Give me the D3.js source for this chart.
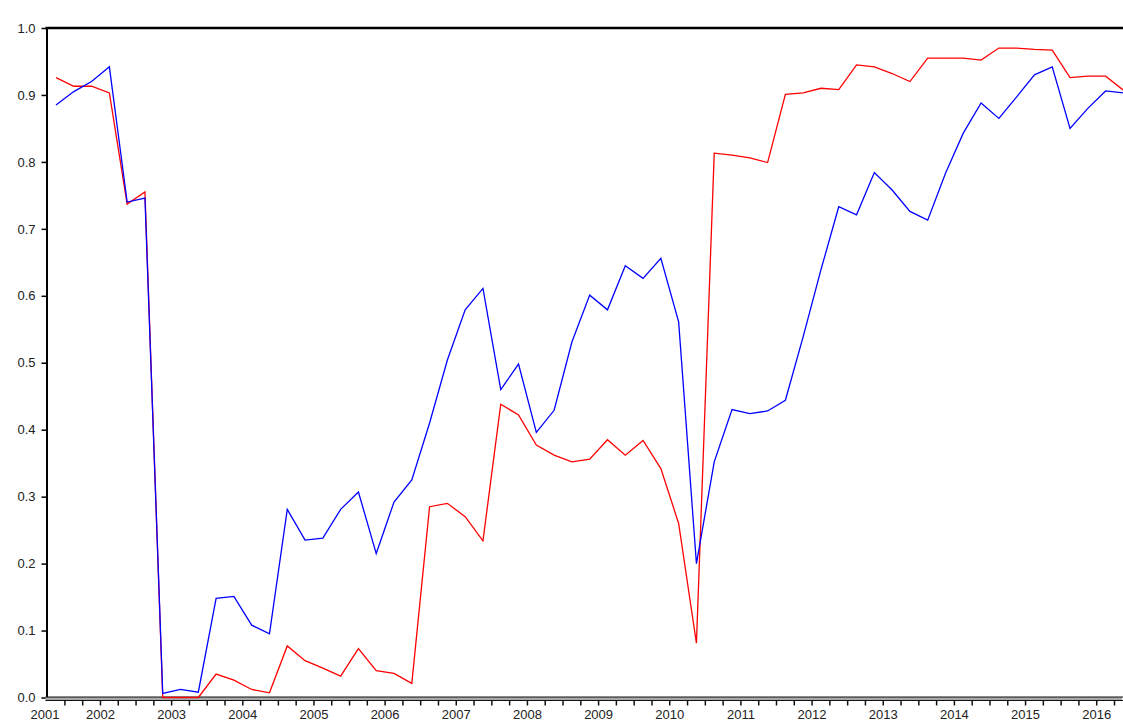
<!DOCTYPE html>
<html>
<head>
<meta charset="utf-8">
<script src="https://cdn.jsdelivr.net/npm/d3@7"></script>
<style>
    body { margin: 0; background: #fff; }
    svg { display: block; }
    .tick-label { font-family: "Liberation Sans", Arial, sans-serif; font-size: 13px; fill: #222; }
</style>
</head>
<body>
<div id="chart-container"></div>
<script>
// quarterly observations, 2001Q4 .. 2016Q4
var quarters = [
    "2001Q4",
    "2002Q1", "2002Q2", "2002Q3", "2002Q4",
    "2003Q1", "2003Q2", "2003Q3", "2003Q4",
    "2004Q1", "2004Q2", "2004Q3", "2004Q4",
    "2005Q1", "2005Q2", "2005Q3", "2005Q4",
    "2006Q1", "2006Q2", "2006Q3", "2006Q4",
    "2007Q1", "2007Q2", "2007Q3", "2007Q4",
    "2008Q1", "2008Q2", "2008Q3", "2008Q4",
    "2009Q1", "2009Q2", "2009Q3", "2009Q4",
    "2010Q1", "2010Q2", "2010Q3", "2010Q4",
    "2011Q1", "2011Q2", "2011Q3", "2011Q4",
    "2012Q1", "2012Q2", "2012Q3", "2012Q4",
    "2013Q1", "2013Q2", "2013Q3", "2013Q4",
    "2014Q1", "2014Q2", "2014Q3", "2014Q4",
    "2015Q1", "2015Q2", "2015Q3", "2015Q4",
    "2016Q1", "2016Q2", "2016Q3", "2016Q4"
];

var redSeries = [
    0.926,
    0.913, 0.913, 0.903, 0.737,
    0.755, 0.000, 0.000, 0.000,
    0.035, 0.026, 0.012, 0.007,
    0.077, 0.055, 0.044, 0.032,
    0.073, 0.040, 0.036, 0.021,
    0.285, 0.290, 0.270, 0.234,
    0.438, 0.422, 0.377, 0.362,
    0.352, 0.356, 0.385, 0.362,
    0.384, 0.342, 0.260, 0.081,
    0.813, 0.810, 0.806, 0.799,
    0.901, 0.903, 0.910, 0.908,
    0.945, 0.942, 0.932, 0.920,
    0.955, 0.955, 0.955, 0.952,
    0.970, 0.970, 0.968, 0.967,
    0.926, 0.928, 0.928, 0.907
];

var blueSeries = [
    0.885,
    0.905, 0.920, 0.942, 0.740,
    0.746, 0.006, 0.012, 0.008,
    0.148, 0.151, 0.108, 0.095,
    0.281, 0.235, 0.238, 0.281,
    0.307, 0.215, 0.292, 0.325,
    0.410, 0.504, 0.579, 0.611,
    0.460, 0.498, 0.396, 0.429,
    0.531, 0.601, 0.579, 0.645,
    0.626, 0.656, 0.561, 0.200,
    0.352, 0.430, 0.424, 0.428,
    0.444, 0.539, 0.639, 0.733,
    0.721, 0.784, 0.758, 0.726,
    0.713, 0.783, 0.843, 0.888,
    0.865, 0.897, 0.930, 0.942,
    0.850, 0.880, 0.906, 0.903
];

var years = ["2001", "2002", "2003", "2004", "2005", "2006", "2007", "2008",
    "2009", "2010", "2011", "2012", "2013", "2014", "2015", "2016"];

var yTicks = [0.0, 0.1, 0.2, 0.3, 0.4, 0.5, 0.6, 0.7, 0.8, 0.9, 1.0];

var width = 1123, height = 722;
var plotLeft = 46.5, plotTop = 28, plotBottom = 697.5;

var svg = d3.select("#chart-container")
    .append("svg")
    .attr("width", width)
    .attr("height", height);

var x = d3.scalePoint()
    .domain(quarters)
    .range([56, 1123.4]);

var step = x.step();

var y = d3.scaleLinear()
    .domain([0, 1])
    .range([plotBottom, plotTop]);

// top border
svg.append("line")
    .attr("x1", plotLeft - 1).attr("x2", width)
    .attr("y1", plotTop).attr("y2", plotTop)
    .attr("stroke", "#000")
    .attr("stroke-width", 2.5);

// left axis
var yAxis = svg.append("g")
    .attr("transform", "translate(" + plotLeft + ",0)")
    .call(d3.axisLeft(y).tickValues(yTicks).tickSize(5).tickSizeOuter(0).tickPadding(6)
        .tickFormat(d3.format(".1f")));

yAxis.attr("font-family", null).attr("font-size", null);

yAxis.select(".domain")
    .attr("stroke", "#000")
    .attr("stroke-width", 2);

yAxis.selectAll(".tick line")
    .attr("stroke", "#000")
    .attr("stroke-width", 1.5);

yAxis.selectAll(".tick text")
    .attr("class", "tick-label")
    .attr("fill", null);

// bottom axis: double rail
svg.append("rect")
    .attr("x", plotLeft - 1).attr("y", plotBottom - 0.5)
    .attr("width", width - plotLeft).attr("height", 3.5)
    .attr("fill", "#a8a8a8");

[plotBottom - 0.5, plotBottom + 3].forEach(function (yy) {
    svg.append("line")
        .attr("x1", plotLeft - 1).attr("x2", width)
        .attr("y1", yy).attr("y2", yy)
        .attr("stroke", "#111")
        .attr("stroke-width", 1.2);
});

// quarter ticks between observations, longer at year boundaries
var tickData = quarters.slice(0, quarters.length - 1);
svg.selectAll(".qtick")
    .data(tickData)
    .enter()
    .append("line")
    .attr("class", "qtick")
    .attr("x1", function (d) { return x(d) + step / 2; })
    .attr("x2", function (d) { return x(d) + step / 2; })
    .attr("y1", plotBottom + 3)
    .attr("y2", function (d) { return d.slice(5) === "Q4" ? plotBottom + 11 : plotBottom + 8; })
    .attr("stroke", "#111")
    .attr("stroke-width", 1.5);

// year labels centred on each year's quarters
svg.selectAll(".year-label")
    .data(years)
    .enter()
    .append("text")
    .attr("class", "tick-label")
    .attr("x", function (yr) {
        var qs = quarters.filter(function (q) { return q.slice(0, 4) === yr; });
        var cx = d3.mean(qs, function (q) { return x(q); });
        if (qs.length === 1) {
            cx = cx - 11; // lone first quarter, label pulled to the left edge
        }
        return cx;
    })
    .attr("y", 719)
    .attr("text-anchor", "middle")
    .text(function (d) { return d; });

// series lines
var line = d3.line()
    .x(function (d, i) { return x(quarters[i]); })
    .y(function (d) { return y(d); });

svg.append("path")
    .datum(redSeries)
    .attr("fill", "none")
    .attr("stroke", "#ff0000")
    .attr("stroke-width", 1.3)
    .attr("d", line);

svg.append("path")
    .datum(blueSeries)
    .attr("fill", "none")
    .attr("stroke", "#0000ff")
    .attr("stroke-width", 1.3)
    .attr("d", line);
</script>
</body>
</html>
